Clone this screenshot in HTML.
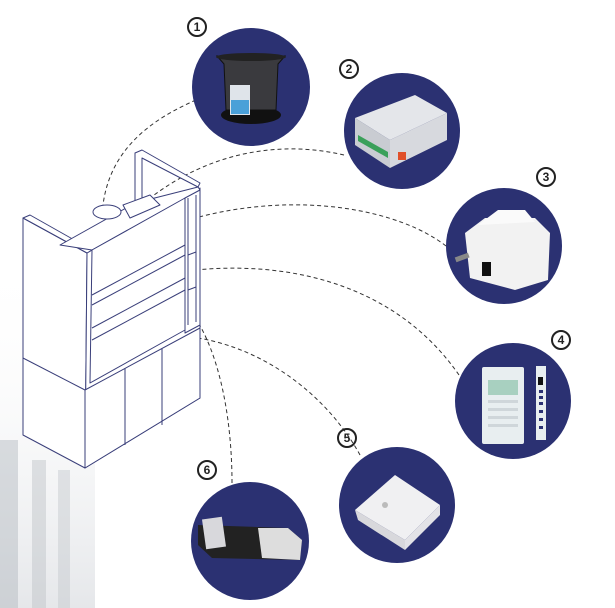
<!DOCTYPE html>
<html><head><meta charset="utf-8"><style>
html,body{margin:0;padding:0;background:#fff;width:615px;height:608px;overflow:hidden}
svg{display:block}
text{font-family:"Liberation Sans","DejaVu Sans",sans-serif;font-weight:bold;fill:#222}
</style></head><body>
<svg width="615" height="608" viewBox="0 0 615 608">
<defs>
<linearGradient id="bg" x1="0" y1="0" x2="0" y2="1">
<stop offset="0" stop-color="#fff" stop-opacity="0"/><stop offset="1" stop-color="#d4d7dc"/>
</linearGradient>
</defs>
<rect x="0" y="250" width="95" height="358" fill="url(#bg)" opacity="0.6"/>
<rect x="0" y="440" width="18" height="168" fill="#b0b5bc" opacity="0.45"/>
<rect x="32" y="460" width="14" height="148" fill="#bcc0c6" opacity="0.45"/>
<rect x="58" y="470" width="12" height="138" fill="#c4c8cd" opacity="0.45"/>

<g fill="none" stroke="#333" stroke-width="1" stroke-dasharray="4,3">
<path d="M196,100 C150,120 110,150 103,205"/>
<path d="M344,155 C280,140 200,150 130,215"/>
<path d="M446,246 C400,210 300,190 195,218"/>
<path d="M459,375 C400,290 300,260 195,270"/>
<path d="M360,455 C330,400 270,350 198,338"/>
<path d="M232,483 C232,420 220,350 190,310"/>
</g>

<g fill="#fff" stroke="#3a3f7a" stroke-width="1" stroke-linejoin="round">
<polygon points="23,218 87,253 85,468 23,435"/>
<polygon points="87,253 200,188 200,398 85,468"/>
<polygon points="23,218 30,215 92,250 87,253"/>
<polygon points="135,153 142,150 200,183 198,187 142,158 142,200 135,203"/>
<polygon points="60,245 135,203 198,187 200,190 92,250"/>
<polygon points="92,250 185,198 185,330 90,383"/>
<polygon points="185,198 200,190 200,325 185,333"/>
<polygon points="85,390 200,328 200,398 85,468"/>
<line x1="23" y1="358" x2="85" y2="390"/>
<line x1="125" y1="368" x2="125" y2="445"/>
<line x1="162" y1="348" x2="162" y2="425"/>
<line x1="92" y1="295" x2="185" y2="245"/>
<line x1="92" y1="305" x2="185" y2="255"/>
<line x1="92" y1="328" x2="185" y2="278"/>
<line x1="92" y1="340" x2="185" y2="290"/>
<line x1="188" y1="198" x2="188" y2="325"/>
<line x1="196" y1="195" x2="196" y2="322"/>
<line x1="188" y1="255" x2="196" y2="252"/>
<line x1="188" y1="290" x2="196" y2="287"/>
<ellipse cx="107" cy="212" rx="14" ry="7"/>
<polygon points="123,205 150,195 160,205 130,218"/>
</g>

<g fill="#2b3172">
<circle cx="251" cy="87" r="59"/>
<circle cx="402" cy="131" r="58"/>
<circle cx="504" cy="246" r="58"/>
<circle cx="513" cy="401" r="58"/>
<circle cx="397" cy="505" r="58"/>
<circle cx="250" cy="541" r="59"/>
</g>

<ellipse cx="251" cy="115" rx="30" ry="9" fill="#111"/>
<path d="M217,56 L285,56 L278,64 L276,110 L226,110 L224,64 Z" fill="#3a3a3e" stroke="#111"/>
<ellipse cx="251" cy="57" rx="35" ry="4" fill="#222"/>
<rect x="230" y="85" width="20" height="30" fill="#dfe4ea"/>
<rect x="231" y="100" width="18" height="14" fill="#4aa0d8"/>

<polygon points="355,118 415,95 447,113 390,140" fill="#e4e6ea"/>
<polygon points="355,118 390,140 390,168 355,145" fill="#c9ccd2"/>
<polygon points="390,140 447,113 447,140 390,168" fill="#d7d9de"/>
<polygon points="358,135 388,152 388,158 358,141" fill="#3aa05a"/>
<rect x="398" y="152" width="8" height="8" fill="#e0502a"/>

<polygon points="465,233 485,218 535,218 550,233 548,280 515,290 470,278" fill="#f2f2f2"/>
<polygon points="478,225 498,210 525,210 535,222" fill="#fafafa"/>
<rect x="455" y="255" width="14" height="5" fill="#888" transform="rotate(-20 462 257)"/>
<rect x="482" y="262" width="9" height="14" fill="#111"/>

<rect x="482" y="367" width="42" height="77" rx="2" fill="#e8eef0"/>
<rect x="488" y="380" width="30" height="15" fill="#a8d0c0"/>
<g fill="#cfd6da"><rect x="488" y="400" width="30" height="3"/><rect x="488" y="408" width="30" height="3"/><rect x="488" y="416" width="30" height="3"/><rect x="488" y="424" width="30" height="3"/></g>
<rect x="536" y="366" width="10" height="74" fill="#e8eef0"/>
<rect x="538" y="377" width="5" height="8" fill="#111"/>
<g fill="#2b3172"><rect x="539" y="390" width="4" height="3"/><rect x="539" y="396" width="4" height="3"/><rect x="539" y="402" width="4" height="3"/><rect x="539" y="410" width="4" height="3"/><rect x="539" y="418" width="4" height="3"/><rect x="539" y="426" width="4" height="3"/></g>

<polygon points="355,510 395,475 440,505 405,540" fill="#f0f0f2"/>
<polygon points="355,510 405,540 405,550 358,520" fill="#d8d8dc"/>
<polygon points="405,540 440,505 440,515 405,550" fill="#e2e2e6"/>
<circle cx="385" cy="505" r="3" fill="#bbb"/>

<polygon points="198,525 288,528 302,540 300,560 212,558 198,545" fill="#222"/>
<polygon points="258,528 288,528 302,540 300,560 262,558" fill="#ddd"/>
<rect x="204" y="518" width="20" height="30" fill="#d8d8dc" transform="rotate(-8 214 533)"/>

<g fill="none" stroke="#222" stroke-width="2">
<circle cx="197" cy="27" r="9"/><circle cx="349" cy="69" r="9"/><circle cx="546" cy="177" r="9"/>
<circle cx="561" cy="340" r="9"/><circle cx="347" cy="438" r="9"/><circle cx="207" cy="470" r="9"/>
</g>
<g font-size="12" text-anchor="middle">
<text x="197" y="31">1</text><text x="349" y="73">2</text><text x="546" y="181">3</text>
<text x="561" y="344">4</text><text x="347" y="442">5</text><text x="207" y="474">6</text>
</g>
</svg>
</body></html>
